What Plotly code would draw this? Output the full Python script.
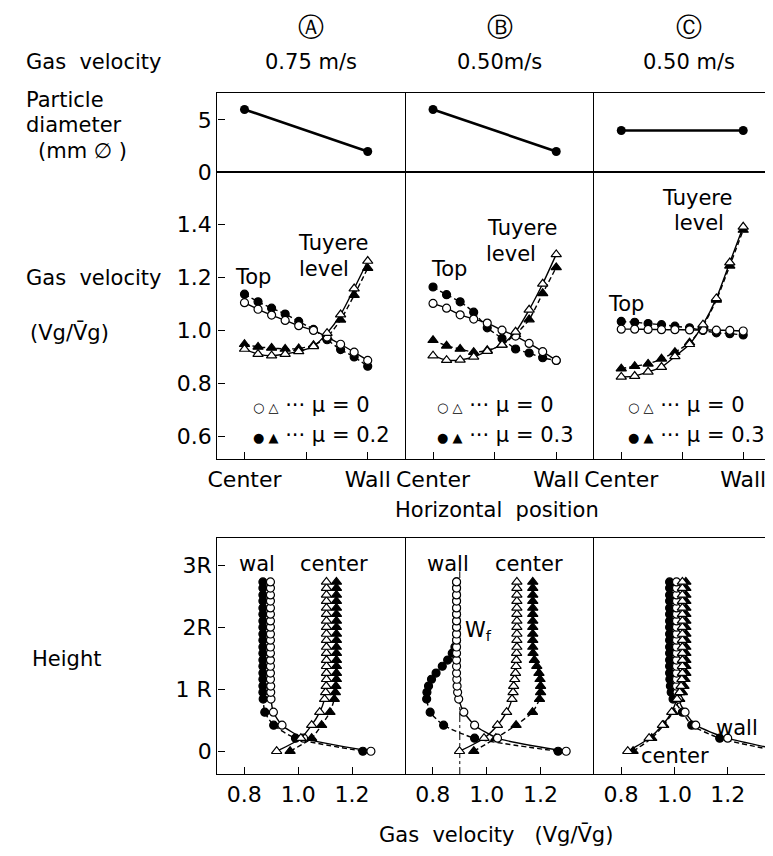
import plotly.graph_objects as go

# ---------------- data ----------------
# top row: particle diameter (mm) at Center (0) and Wall (1)
pos_ends = [0, 1]
diam_A = [6, 2]
diam_B = [6, 2]
diam_C = [4, 4]

# middle row: horizontal position (0 = Center, 1 = Wall)
U = [0, 0.11, 0.22, 0.33, 0.44, 0.56, 0.67, 0.78, 0.89, 1.0]
top_A_mu0 = [1.105, 1.08, 1.058, 1.038, 1.018, 1.0, 0.975, 0.948, 0.918, 0.887]
top_A_mu2 = [1.137, 1.108, 1.084, 1.062, 1.034, 1.004, 0.965, 0.928, 0.9, 0.865]
tuy_A_mu0 = [0.93, 0.911, 0.905, 0.911, 0.921, 0.94, 0.99, 1.06, 1.158, 1.262]
tuy_A_mu2 = [0.948, 0.938, 0.934, 0.93, 0.932, 0.944, 0.975, 1.04, 1.133, 1.235]

top_B_mu0 = [1.102, 1.084, 1.059, 1.043, 1.028, 1.001, 0.979, 0.951, 0.92, 0.887]
top_B_mu3 = [1.164, 1.135, 1.108, 1.069, 1.01, 0.97, 0.93, 0.915, 0.897, 0.887]
tuy_B_mu0 = [0.905, 0.888, 0.889, 0.9, 0.922, 0.946, 0.995, 1.078, 1.176, 1.287]
tuy_B_mu3 = [0.963, 0.942, 0.93, 0.918, 0.925, 0.946, 0.985, 1.041, 1.14, 1.238]

top_C_mu0 = [1.005, 1.005, 1.004, 1.003, 1.003, 1.002, 1.002, 1.001, 1.0, 0.998]
top_C_mu3 = [1.034, 1.031, 1.026, 1.022, 1.016, 1.01, 1.0, 0.991, 0.988, 0.983]
tuy_C_mu0 = [0.825, 0.828, 0.844, 0.862, 0.902, 0.948, 1.022, 1.121, 1.256, 1.391]
tuy_C_mu3 = [0.856, 0.865, 0.874, 0.893, 0.918, 0.954, 1.016, 1.115, 1.244, 1.379]

# bottom row: height (in R) and gas velocity along wall / center
H = [0, 0.21, 0.42, 0.63, 0.84, 0.95, 1.05, 1.16, 1.26, 1.37, 1.47, 1.58,
     1.68, 1.79, 1.89, 2.0, 2.1, 2.21, 2.31, 2.42, 2.52, 2.63, 2.73]
wall_A_mu0 = [1.27, 1.02, 0.94, 0.908, 0.899, 0.898, 0.898, 0.897, 0.897, 0.897, 0.897, 0.897,
              0.897, 0.897, 0.897, 0.897, 0.897, 0.897, 0.897, 0.897, 0.897, 0.897, 0.897]
wall_A_mu2 = [1.24, 0.99, 0.909, 0.876, 0.870, 0.869, 0.869, 0.869, 0.869, 0.869, 0.869, 0.869,
              0.869, 0.869, 0.869, 0.869, 0.869, 0.869, 0.869, 0.869, 0.869, 0.869, 0.869]
cen_A_mu0 = [0.92, 1.01, 1.05, 1.08, 1.098, 1.102, 1.104, 1.105, 1.105, 1.105, 1.105, 1.105,
             1.105, 1.105, 1.105, 1.105, 1.105, 1.105, 1.105, 1.105, 1.105, 1.105, 1.105]
cen_A_mu2 = [0.97, 1.05, 1.087, 1.118, 1.134, 1.138, 1.14, 1.142, 1.142, 1.142, 1.142, 1.142,
             1.142, 1.142, 1.142, 1.142, 1.142, 1.142, 1.142, 1.142, 1.142, 1.142, 1.142]

wall_B_mu0 = [1.295, 1.04, 0.955, 0.915, 0.896, 0.892, 0.89, 0.889, 0.888, 0.888, 0.888, 0.888,
              0.888, 0.888, 0.888, 0.888, 0.888, 0.888, 0.888, 0.888, 0.888, 0.888, 0.888]
wall_B_mu3 = [1.265, 0.955, 0.84, 0.79, 0.777, 0.778, 0.784, 0.795, 0.812, 0.835, 0.855, 0.872,
              0.882, 0.888, 0.888, 0.888, 0.888, 0.888, 0.888, 0.888, 0.888, 0.888, 0.888]
cen_B_mu0 = [0.899, 0.99, 1.04, 1.074, 1.094, 1.098, 1.1, 1.104, 1.107, 1.109, 1.11, 1.111,
             1.112, 1.112, 1.112, 1.112, 1.112, 1.112, 1.112, 1.112, 1.112, 1.112, 1.112]
cen_B_mu3 = [0.952, 1.034, 1.109, 1.17, 1.196, 1.2, 1.2, 1.198, 1.194, 1.186, 1.177, 1.172,
             1.171, 1.171, 1.171, 1.171, 1.171, 1.171, 1.171, 1.171, 1.171, 1.171, 1.171]
wf_B = 0.9          # W_f reference velocity (dash-dot line)
wf_span = [-0.4, 2.9]

wall_C_mu0 = [1.42, 1.2, 1.08, 1.04, 1.015, 1.01, 1.008, 1.008, 1.008, 1.008, 1.008, 1.008,
              1.008, 1.008, 1.008, 1.008, 1.008, 1.008, 1.008, 1.008, 1.008, 1.008, 1.008]
wall_C_mu3 = [1.39, 1.17, 1.065, 1.03, 0.995, 0.988, 0.985, 0.983, 0.982, 0.982, 0.982, 0.982,
              0.982, 0.982, 0.982, 0.982, 0.982, 0.982, 0.982, 0.982, 0.982, 0.982, 0.982]
cen_C_mu0 = [0.825, 0.905, 0.955, 0.99, 1.01, 1.02, 1.025, 1.028, 1.03, 1.03, 1.03, 1.03,
             1.03, 1.03, 1.03, 1.03, 1.03, 1.03, 1.03, 1.03, 1.03, 1.03, 1.03]
cen_C_mu3 = [0.845, 0.915, 0.96, 0.995, 1.02, 1.03, 1.036, 1.04, 1.043, 1.043, 1.043, 1.043,
             1.043, 1.043, 1.043, 1.043, 1.043, 1.043, 1.043, 1.043, 1.043, 1.043, 1.043]

mu_labels = ["0.2", "0.3", "0.3"]
gas_vel_labels = ["0.75 m/s", "0.50m/s", "0.50 m/s"]
panel_letters = ["Ⓐ", "Ⓑ", "Ⓒ"]
mid_yticks = [0.6, 0.8, 1.0, 1.2, 1.4]
bot_xticks = [0.8, 1.0, 1.2]
bot_yticks = [0, 1, 2, 3]
bot_yticktext = ["0", "1 R", "2R", "3R"]

# ---------------- figure ----------------
W, HH = 773, 856
FONT = "DejaVu Sans"
fig = go.Figure()

XD = [[202 / W, 393 / W], [393 / W, 584 / W], [584 / W, 1.0]]
YD = {"top": [1 - 167 / HH, 1 - 86 / HH],
      "mid": [1 - 458 / HH, 1 - 167 / HH],
      "bot": [1 - 778 / HH, 1 - 538 / HH]}
ROWS = ["top", "mid", "bot"]

def axid(row, col):
    return row * 3 + col + 1

def xname(i):
    return "x" if i == 1 else f"x{i}"

def yname(i):
    return "y" if i == 1 else f"y{i}"

line_kw = dict(showline=True, linecolor="black", linewidth=1.4, showgrid=False,
               zeroline=False, ticks="inside", ticklen=7, tickwidth=1.3, tickcolor="black",
               tickfont=dict(family=FONT, size=22, color="black"))

for r, row in enumerate(ROWS):
    for c in range(3):
        i = axid(r, c)
        xa = dict(line_kw, domain=XD[c], anchor=yname(i), mirror=True)
        ya = dict(line_kw, domain=YD[row], anchor=xname(i), mirror=False)
        if row in ("top", "mid"):
            xa.update(range=[-0.22, 1.31])
        else:
            xa.update(range=[0.70, 1.40])
        if row == "top":
            xa.update(ticks="", showticklabels=False)
            ya.update(range=[0, 7.6])
            if c == 0:
                ya.update(tickvals=[0, 5], ticktext=["0", "5"])
            else:
                ya.update(ticks="", showticklabels=False)
        elif row == "mid":
            xa.update(tickvals=[0, 1], ticktext=["Center", "Wall"],
                      minor=dict(tickvals=[0.5], ticks="inside", ticklen=7,
                                 tickwidth=1.3, tickcolor="black", showgrid=False))
            ya.update(range=[0.515, 1.596])
            if c == 0:
                ya.update(tickvals=mid_yticks, ticktext=[f"{v:.1f}" for v in mid_yticks])
            else:
                ya.update(ticks="", showticklabels=False)
        else:
            xa.update(tickvals=bot_xticks, ticktext=[f"{v:.1f}" for v in bot_xticks])
            ya.update(range=[-0.37, 3.44])
            if c == 0:
                ya.update(tickvals=bot_yticks, ticktext=bot_yticktext)
            else:
                ya.update(ticks="", showticklabels=False)
        fig.layout["xaxis" if i == 1 else f"xaxis{i}"] = xa
        fig.layout["yaxis" if i == 1 else f"yaxis{i}"] = ya


def add_curve(x, y, i, filled, tri, dashed, spline=True):
    sym = "triangle-up" if tri else "circle"
    fig.add_trace(go.Scatter(
        x=x, y=y, xaxis=xname(i), yaxis=yname(i), mode="lines+markers",
        line=dict(color="black", width=1.4, dash="5px,3px" if dashed else "solid",
                  shape="spline" if spline else "linear", smoothing=0.6),
        marker=dict(symbol=sym, size=9 if tri else 8,
                    color="black" if filled else "white",
                    line=dict(color="black", width=1.2)),
        showlegend=False, hoverinfo="skip"))

# top row
for c, d in enumerate([diam_A, diam_B, diam_C]):
    i = axid(0, c)
    fig.add_trace(go.Scatter(x=pos_ends, y=d, xaxis=xname(i), yaxis=yname(i),
                             mode="lines+markers", line=dict(color="black", width=2.6),
                             marker=dict(size=9, color="black"), showlegend=False,
                             hoverinfo="skip"))

# middle row
mids = [(top_A_mu0, top_A_mu2, tuy_A_mu0, tuy_A_mu2),
        (top_B_mu0, top_B_mu3, tuy_B_mu0, tuy_B_mu3),
        (top_C_mu0, top_C_mu3, tuy_C_mu0, tuy_C_mu3)]
for c, (t0, t1, u0, u1) in enumerate(mids):
    i = axid(1, c)
    add_curve(U, t1, i, True, False, True)
    add_curve(U, u1, i, True, True, True)
    add_curve(U, t0, i, False, False, False)
    add_curve(U, u0, i, False, True, False)

# bottom row
bots = [(wall_A_mu0, wall_A_mu2, cen_A_mu0, cen_A_mu2),
        (wall_B_mu0, wall_B_mu3, cen_B_mu0, cen_B_mu3),
        (wall_C_mu0, wall_C_mu3, cen_C_mu0, cen_C_mu3)]
iB = axid(2, 1)
fig.add_trace(go.Scatter(x=[wf_B, wf_B], y=wf_span, xaxis=xname(iB), yaxis=yname(iB),
                         mode="lines", line=dict(color="black", width=1, dash="dashdot"),
                         showlegend=False, hoverinfo="skip"))
for c, (w0, w1, c0, c1) in enumerate(bots):
    i = axid(2, c)
    add_curve(w1, H, i, True, False, True)
    add_curve(c1, H, i, True, True, True)
    add_curve(w0, H, i, False, False, False)
    add_curve(c0, H, i, False, True, False)

# ---------------- text ----------------
ann = []

def txt(text, x, y, xref="paper", yref="paper", size=21, xanchor="center", yanchor="middle"):
    if xref == "paper":
        x = x / W
        y = 1 - y / HH
    ann.append(dict(text=text, x=x, y=y, xref=xref, yref=yref, showarrow=False,
                    xanchor=xanchor, yanchor=yanchor,
                    font=dict(family=FONT, size=size, color="black")))

centers = [297, 488, 680]
for c in range(3):
    txt(panel_letters[c], centers[c], 19, size=26)
    txt(gas_vel_labels[c], centers[c], 55, size=21)

txt("Gas  velocity", 6, 55, xanchor="left")
txt("Particle", 6, 93, xanchor="left")
txt("diameter", 6, 119, xanchor="left")
txt("(mm ∅ )", 18, 145, xanchor="left")
txt("Gas  velocity", 6, 274, xanchor="left")
txt("(Vg/V\u0304g)", 10, 329, xanchor="left")
txt("Horizontal  position", 485, 510)
txt("Height", 12, 661, xanchor="left")
txt("Gas  velocity   (Vg/V\u0304g)", 484, 839)

# middle panel labels (data coords)
mid_lab = [[("Top", 0.065, 1.2), ("Tuyere", 0.72, 1.33), ("level", 0.645, 1.23)],
           [("Top", 0.13, 1.23), ("Tuyere", 0.72, 1.385), ("level", 0.63, 1.29)],
           [("Top", 0.04, 1.1), ("Tuyere", 0.62, 1.5), ("level", 0.64, 1.405)]]
leg_x = [0.05, 0.02, 0.035]
for c in range(3):
    i = axid(1, c)
    for t, x, y in mid_lab[c]:
        txt(t, x, y, xref=xname(i), yref=yname(i), size=21)
    sym0 = "<span style='font-size:13px'>○ △</span> ··· μ = 0"
    sym1 = "<span style='font-size:13px'>● ▲</span> ··· μ = " + mu_labels[c]
    txt(sym0, leg_x[c], 0.72, xref=xname(i), yref=yname(i), size=21, xanchor="left")
    txt(sym1, leg_x[c], 0.607, xref=xname(i), yref=yname(i), size=21, xanchor="left")

# bottom panel labels
iA, iB2, iC = axid(2, 0), axid(2, 1), axid(2, 2)
txt("wal", 0.848, 3.02, xref=xname(iA), yref=yname(iA))
txt("center", 1.134, 3.02, xref=xname(iA), yref=yname(iA))
txt("wall", 0.856, 3.02, xref=xname(iB2), yref=yname(iB2))
txt("center", 1.156, 3.02, xref=xname(iB2), yref=yname(iB2))
txt("W<sub>f</sub>", 0.912, 1.93, xref=xname(iB2), yref=yname(iB2), xanchor="left")
txt("wall", 1.235, 0.37, xref=xname(iC), yref=yname(iC))
txt("center", 1.004, -0.08, xref=xname(iC), yref=yname(iC))

fig.update_layout(width=W, height=HH, margin=dict(l=0, r=0, t=0, b=0),
                  paper_bgcolor="white", plot_bgcolor="white",
                  showlegend=False, annotations=ann,
                  font=dict(family=FONT, color="black"))

fig.write_html("out.html", config={"displayModeBar": False})
